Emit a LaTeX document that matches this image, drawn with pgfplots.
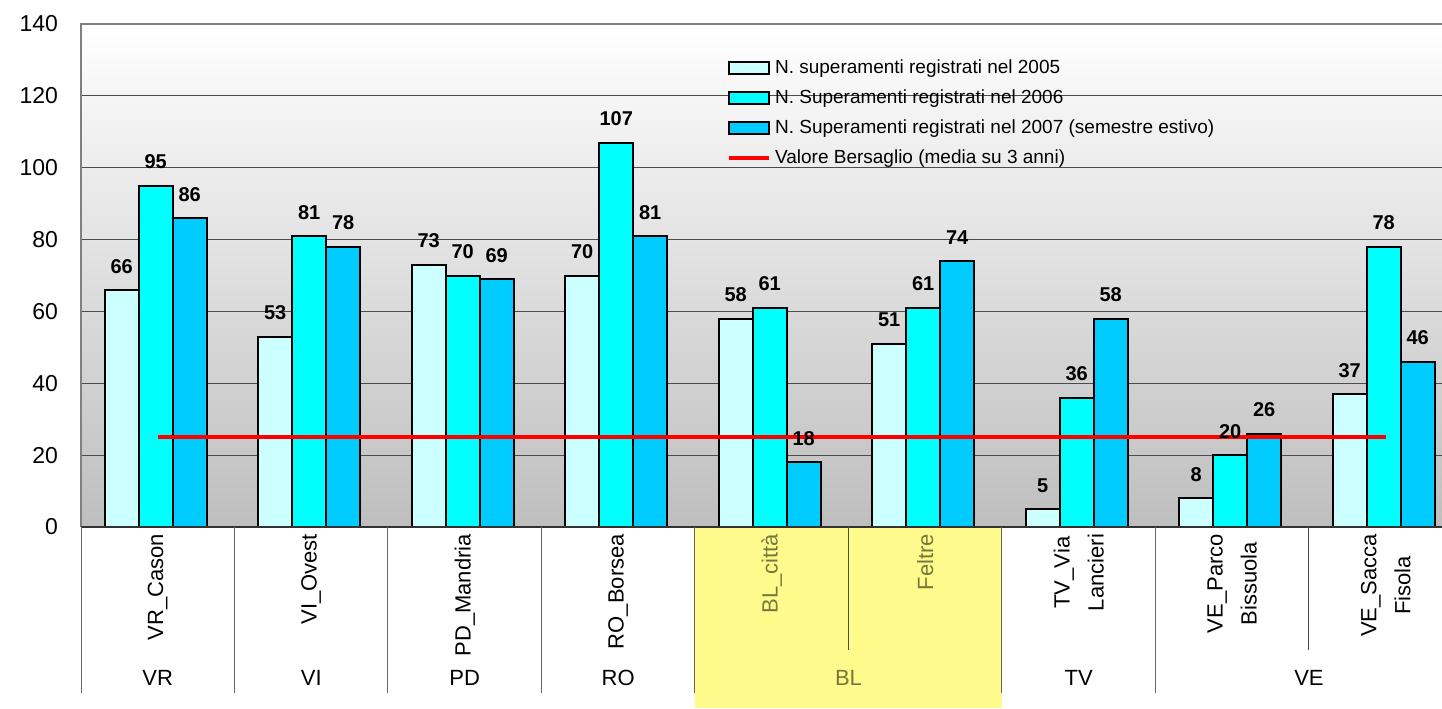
\documentclass[border=0pt]{standalone}
\usepackage{pgfplots}
\pgfplotsset{compat=1.18}
\usepackage{fontspec}
\setmainfont{Liberation Sans}
\definecolor{c05}{RGB}{204,255,255}
\definecolor{c06}{RGB}{0,255,255}
\definecolor{c07}{RGB}{0,204,255}
\definecolor{bggray}{RGB}{190,190,190}
\definecolor{blyel}{RGB}{255,250,140}
\definecolor{bltext}{RGB}{120,120,60}

\begin{document}
\begin{tikzpicture}
% yellow band under the BL category (x from 3.5 to 5.5 in axis units)
\fill[blyel] (347.5pt,0pt) rectangle (501pt,90.5pt);
\begin{axis}[
  at={(40.5pt,90.5pt)}, anchor=south west,
  scale only axis, width=680.5pt, height=251.5pt,
  clip=false,
  xmin=-0.5, xmax=8.367, ymin=0, ymax=140,
  ytick={0,20,...,140},
  ymajorgrids, grid style={draw=black!70, line width=0.6pt},
  axis line style={draw=none},
  major tick length=0pt,
  axis background/.style={top color=white, bottom color=bggray},
  /pgf/number format/assume math mode=true,
  y tick label style={font=\fontsize{11.5}{13}\selectfont, xshift=-8pt},
  xtick={0,...,8},
  xticklabels={VR\_Cason, VI\_Ovest, PD\_Mandria, RO\_Borsea,
    \textcolor{bltext}{BL\_città}, \textcolor{bltext}{Feltre},
    TV\_Via\\Lancieri, VE\_Parco\\Bissuola, VE\_Sacca\\Fisola},
  x tick label style={rotate=90, anchor=east, align=center,
    font=\fontsize{11}{17}\selectfont},
  bar width=17pt,
  every node near coord/.append style={font=\bfseries\fontsize{10}{12}\selectfont, yshift=4.5pt},
  legend style={at={(0.47,0.945)}, anchor=north west, draw=none, fill=none,
    font=\fontsize{9.5}{11}\selectfont, row sep=2.5pt,
    /tikz/every even column/.append style={column sep=3pt}},
  legend cell align=left,
]
\addplot[ybar, bar shift=-18pt, fill=c05, draw=black, line width=1pt,
  nodes near coords, every node near coord/.append style={xshift=-18pt},
  legend image code/.code={\draw[fill=c05, draw=black, line width=1pt] (0pt,-3pt) rectangle (20pt,3pt);}]
  coordinates {(0,66) (1,53) (2,73) (3,70) (4,58) (5,51) (6,5) (7,8) (8,37)};
\addlegendentry{N. superamenti registrati nel 2005}

\addplot[ybar, bar shift=-1pt, fill=c06, draw=black, line width=1pt,
  nodes near coords, every node near coord/.append style={xshift=-1pt},
  legend image code/.code={\draw[fill=c06, draw=black, line width=1pt] (0pt,-3pt) rectangle (20pt,3pt);}]
  coordinates {(0,95) (1,81) (2,70) (3,107) (4,61) (5,61) (6,36) (7,20) (8,78)};
\addlegendentry{N. Superamenti registrati nel 2006}

\addplot[ybar, bar shift=16pt, fill=c07, draw=black, line width=1pt,
  nodes near coords, every node near coord/.append style={xshift=16pt},
  legend image code/.code={\draw[fill=c07, draw=black, line width=1pt] (0pt,-3pt) rectangle (20pt,3pt);}]
  coordinates {(0,86) (1,78) (2,69) (3,81) (4,18) (5,74) (6,58) (7,26) (8,46)};
\addlegendentry{N. Superamenti registrati nel 2007 (semestre estivo)}

\addplot[red, line width=2pt, mark=none,
  legend image code/.code={\draw[red, line width=2pt] (0pt,0pt) -- (20pt,0pt);}]
  coordinates {(0,25) (8,25)};
\addlegendentry{Valore Bersaglio (media su 3 anni)}

% frame
\draw[black!50, line width=1pt] (rel axis cs:0,0) -- (rel axis cs:0,1) -- (rel axis cs:1,1);
\draw[black!80, line width=1pt] (rel axis cs:0,0) -- (rel axis cs:1,0);
% category separators
\pgfplotsinvokeforeach{-0.5,0.5,1.5,2.5,3.5,5.5,6.5}{
  \draw[black!60, line width=0.5pt] (axis cs:#1,0) -- ++(0pt,-83pt);
}
\pgfplotsinvokeforeach{4.5,7.5}{
  \draw[black!70, line width=0.5pt] (axis cs:#1,0) -- ++(0pt,-61.5pt);
}
% group labels
\foreach \gx/\gl/\gc in {0/VR/black, 1/VI/black, 2/PD/black, 3/RO/black,
    4.5/BL/bltext, 6/TV/black, 7.5/VE/black} {
  \edef\tmp{\noexpand\node[font=\noexpand\fontsize{11}{13}\noexpand\selectfont, text=\gc]
    at ([yshift=-75.5pt]axis cs:\gx,0) {\gl};}
  \tmp
}
\end{axis}
\pgfresetboundingbox
\path[use as bounding box] (0,0) rectangle (721pt,354pt);
\end{tikzpicture}
\end{document}
